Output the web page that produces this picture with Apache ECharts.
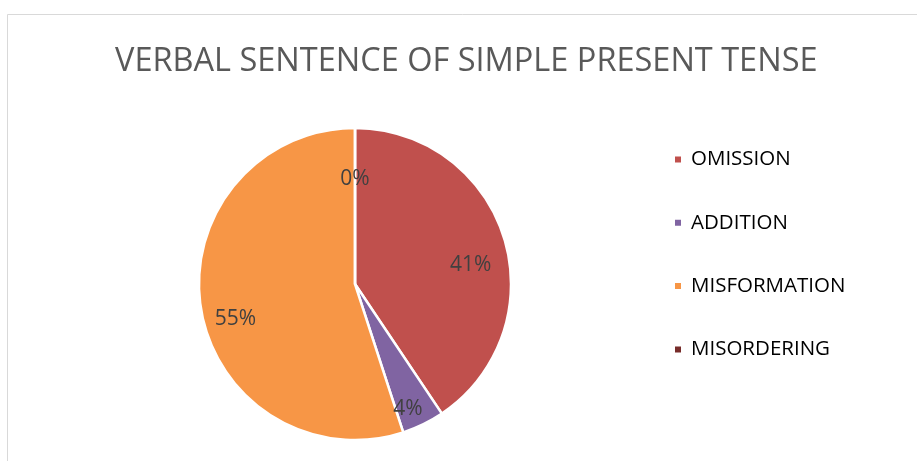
<!DOCTYPE html>
<html>
<head>
<meta charset="utf-8">
<script src="https://cdn.jsdelivr.net/npm/echarts@6/dist/echarts.min.js"></script>
<style>html,body{margin:0;padding:0;background:#fff}#c{width:917px;height:461px}</style>
</head>
<body>
<div id="c"></div>
<script>
const titleText = 'VERBAL SENTENCE OF SIMPLE PRESENT TENSE';
const categories = ['OMISSION', 'ADDITION', 'MISFORMATION', 'MISORDERING'];
const values = [40.6, 4.4, 55.0, 0];
const colors = ['#C0504D', '#8064A2', '#F79646', '#772C2A'];

const data = categories.map((n, i) => ({ name: n, value: values[i], itemStyle: { color: colors[i] } }));
const labelData = categories.map((n, i) => ({ name: n, value: values[i] }));
const fmt = p => Math.round(p.percent) + '%';

const chart = echarts.init(document.getElementById('c'), null, { renderer: 'canvas' });
chart.setOption({
  backgroundColor: '#fff',
  animation: false,
  title: {
    text: titleText,
    left: 110,
    top: 40,
    textStyle: { fontFamily: 'Open Sans', fontSize: 32.5, fontWeight: 'normal', color: '#595959' }
  },
  graphic: [{
    type: 'rect', left: 5, top: 12, silent: true,
    shape: { width: 1000, height: 1000 },
    style: { fill: 'none', stroke: '#d9d9d9', lineWidth: 1 }
  }],
  legend: {
    orient: 'vertical',
    left: 668,
    top: 144,
    itemWidth: 8,
    itemHeight: 8,
    itemGap: 42.3,
    icon: 'rect',
    data: categories.map((n, i) => ({ name: n, itemStyle: { color: colors[i], opacity: 1 } })),
    textStyle: { fontFamily: 'Open Sans', fontSize: 20.5, color: '#000', padding: [0, 0, 0, 4] }
  },
  series: [{
    type: 'pie',
    center: [355, 284],
    radius: [0, 156],
    startAngle: 90,
    clockwise: true,
    data: data,
    label: { show: false },
    labelLine: { show: false },
    itemStyle: { borderColor: '#fff', borderWidth: 2.5 },
    emphasis: { disabled: true }
  }, {
    type: 'pie',
    center: [355, 284],
    radius: [80, 156],
    startAngle: 90,
    clockwise: true,
    silent: true,
    legendHoverLink: false,
    data: labelData,
    itemStyle: { color: 'rgba(0,0,0,0)', borderWidth: 0 },
    label: {
      show: true, position: 'inside', formatter: fmt, offset: [0, 16],
      fontFamily: 'Open Sans', fontSize: 21, color: '#404040'
    },
    labelLine: { show: false },
    emphasis: { disabled: true }
  }]
});
</script>
</body>
</html>
